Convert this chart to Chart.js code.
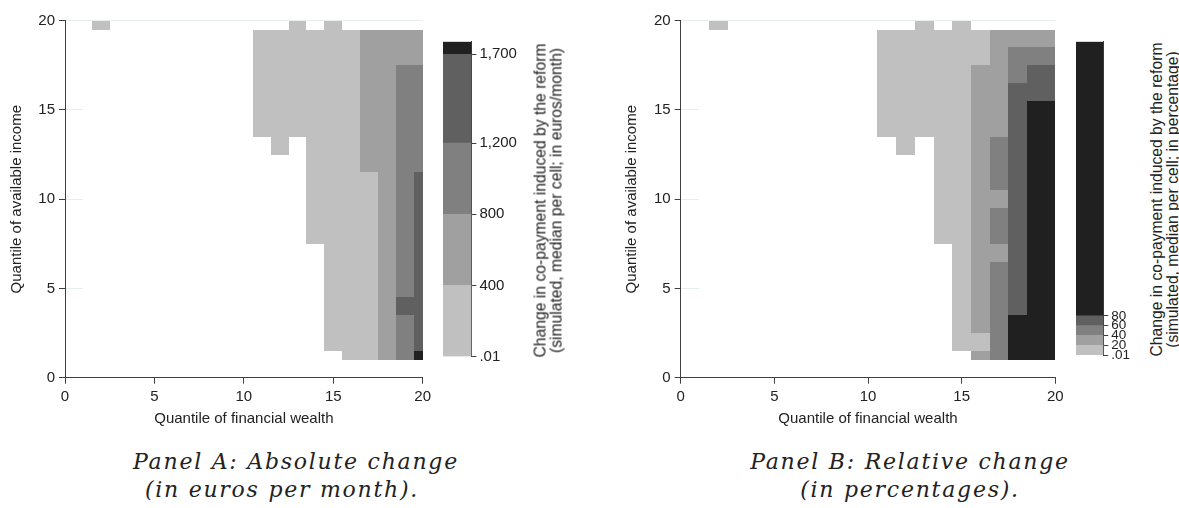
<!DOCTYPE html>
<html>
<head>
<meta charset="utf-8">
<script src="https://cdn.jsdelivr.net/npm/chart.js@4.4.1/dist/chart.umd.min.js"></script>
<style>
  html, body { margin: 0; padding: 0; background: #fff; }
  body { width: 1179px; height: 508px; position: relative; overflow: hidden;
         font-family: "Liberation Sans", Arial, sans-serif; color: #222; }
  canvas { position: absolute; top: 0; }
  .cbtitle { position: absolute; width: 340px; font-size: 15.7px; line-height: 15.5px;
             text-align: center; white-space: nowrap; transform: rotate(-90deg); }
  .cap { position: absolute; font-family: "DejaVu Serif", serif; font-style: italic;
         font-size: 22px; line-height: 26px; letter-spacing: 1.75px; white-space: nowrap;
         transform: translateX(-50%); }
</style>
</head>
<body>
<canvas id="heatA" width="440" height="430" style="left:0px"></canvas>
<canvas id="barA" width="90" height="380" style="left:443px"></canvas>
<div class="cbtitle" style="left:378px; top:184.5px">Change in co-payment induced by the reform<br>(simulated, median per cell; in euros/month)</div>

<canvas id="heatB" width="460" height="430" style="left:615px"></canvas>
<canvas id="barB" width="70" height="380" style="left:1076px"></canvas>
<div class="cbtitle" style="left:994px; top:183.5px">Change in co-payment induced by the reform<br>(simulated, median per cell; in percentage)</div>

<div class="cap" style="left:296px; top:449px">Panel A: Absolute change</div>
<div class="cap" style="left:282px; top:477px">(in euros per month).</div>
<div class="cap" style="left:910px; top:449px">Panel B: Relative change</div>
<div class="cap" style="left:910px; top:477px">(in percentages).</div>

<script>
const _ = null;

// columns: quantile of financial wealth, rows: quantile of available income (top row first)
const wealthQuantiles = [1, 2, 3, 4, 5, 6, 7, 8, 9, 10, 11, 12, 13, 14, 15, 16, 17, 18, 19, 20];
const incomeQuantiles = [20, 19, 18, 17, 16, 15, 14, 13, 12, 11, 10, 9, 8, 7, 6, 5, 4, 3, 2, 1];
const axisTicks = [0, 5, 10, 15, 20];

// median change in co-payment, euros/month
const absChange = [
  [_, 200, _, _, _, _, _, _, _, _, _, _, 200, _, 200, _, _, _, _, _],
  [_, _, _, _, _, _, _, _, _, _, 200, 200, 200, 200, 200, 200, 600, 600, 600, 600],
  [_, _, _, _, _, _, _, _, _, _, 200, 200, 200, 200, 200, 200, 600, 600, 600, 600],
  [_, _, _, _, _, _, _, _, _, _, 200, 200, 200, 200, 200, 200, 600, 600, 1000, 1000],
  [_, _, _, _, _, _, _, _, _, _, 200, 200, 200, 200, 200, 200, 600, 600, 1000, 1000],
  [_, _, _, _, _, _, _, _, _, _, 200, 200, 200, 200, 200, 200, 600, 600, 1000, 1000],
  [_, _, _, _, _, _, _, _, _, _, 200, 200, 200, 200, 200, 200, 600, 600, 1000, 1000],
  [_, _, _, _, _, _, _, _, _, _, _, 200, _, 200, 200, 200, 600, 600, 1000, 1000],
  [_, _, _, _, _, _, _, _, _, _, _, _, _, 200, 200, 200, 600, 600, 1000, 1000],
  [_, _, _, _, _, _, _, _, _, _, _, _, _, 200, 200, 200, 200, 600, 1000, 1450],
  [_, _, _, _, _, _, _, _, _, _, _, _, _, 200, 200, 200, 200, 600, 1000, 1450],
  [_, _, _, _, _, _, _, _, _, _, _, _, _, 200, 200, 200, 200, 600, 1000, 1450],
  [_, _, _, _, _, _, _, _, _, _, _, _, _, 200, 200, 200, 200, 600, 1000, 1450],
  [_, _, _, _, _, _, _, _, _, _, _, _, _, _, 200, 200, 200, 600, 1000, 1450],
  [_, _, _, _, _, _, _, _, _, _, _, _, _, _, 200, 200, 200, 600, 1000, 1450],
  [_, _, _, _, _, _, _, _, _, _, _, _, _, _, 200, 200, 200, 600, 1000, 1450],
  [_, _, _, _, _, _, _, _, _, _, _, _, _, _, 200, 200, 200, 600, 1450, 1450],
  [_, _, _, _, _, _, _, _, _, _, _, _, _, _, 200, 200, 200, 600, 1000, 1450],
  [_, _, _, _, _, _, _, _, _, _, _, _, _, _, 200, 200, 200, 600, 1000, 1450],
  [_, _, _, _, _, _, _, _, _, _, _, _, _, _, _, 200, 200, 600, 1000, 1750]
];

// median change in co-payment, percent
const relChange = [
  [_, 10, _, _, _, _, _, _, _, _, _, _, 10, _, 10, _, _, _, _, _],
  [_, _, _, _, _, _, _, _, _, _, 10, 10, 10, 10, 10, 10, 30, 30, 30, 30],
  [_, _, _, _, _, _, _, _, _, _, 10, 10, 10, 10, 10, 10, 30, 50, 50, 50],
  [_, _, _, _, _, _, _, _, _, _, 10, 10, 10, 10, 10, 30, 30, 50, 70, 70],
  [_, _, _, _, _, _, _, _, _, _, 10, 10, 10, 10, 10, 30, 30, 70, 70, 70],
  [_, _, _, _, _, _, _, _, _, _, 10, 10, 10, 10, 10, 30, 30, 70, 150, 150],
  [_, _, _, _, _, _, _, _, _, _, 10, 10, 10, 10, 10, 30, 30, 70, 150, 150],
  [_, _, _, _, _, _, _, _, _, _, _, 10, _, 10, 10, 30, 50, 70, 150, 150],
  [_, _, _, _, _, _, _, _, _, _, _, _, _, 10, 10, 30, 50, 70, 150, 150],
  [_, _, _, _, _, _, _, _, _, _, _, _, _, 10, 10, 30, 50, 70, 150, 150],
  [_, _, _, _, _, _, _, _, _, _, _, _, _, 10, 10, 30, 30, 70, 150, 150],
  [_, _, _, _, _, _, _, _, _, _, _, _, _, 10, 10, 30, 50, 70, 150, 150],
  [_, _, _, _, _, _, _, _, _, _, _, _, _, 10, 10, 30, 50, 70, 150, 150],
  [_, _, _, _, _, _, _, _, _, _, _, _, _, _, 10, 30, 30, 70, 150, 150],
  [_, _, _, _, _, _, _, _, _, _, _, _, _, _, 10, 30, 50, 70, 150, 150],
  [_, _, _, _, _, _, _, _, _, _, _, _, _, _, 10, 30, 50, 70, 150, 150],
  [_, _, _, _, _, _, _, _, _, _, _, _, _, _, 10, 30, 50, 70, 150, 150],
  [_, _, _, _, _, _, _, _, _, _, _, _, _, _, 10, 30, 50, 150, 150, 150],
  [_, _, _, _, _, _, _, _, _, _, _, _, _, _, 10, 10, 50, 150, 150, 150],
  [_, _, _, _, _, _, _, _, _, _, _, _, _, _, _, 30, 50, 150, 150, 150]
];

// colour bins (legend)
const absBreaks = [0.01, 400, 800, 1200, 1700, 1771];
const absTickLabels = ['.01', '400', '800', '1,200', '1,700'];
const relBreaks = [0.01, 20, 40, 60, 80, 640];
const relTickLabels = ['.01', '20', '40', '60', '80'];
const shades = ['#c0c0c0', '#a0a0a0', '#808080', '#606060', '#202020'];

const FONT = { family: '"Liberation Sans", Arial, sans-serif', size: 15 };
const SMALL = { family: '"Liberation Sans", Arial, sans-serif', size: 13.5, lineHeight: 1 };
const INK = '#222';
const AXIS = '#404040';

function shadeFor(v, breaks) {
  for (let i = 0; i < shades.length; i++) {
    if (v < breaks[i + 1]) return shades[i];
  }
  return shades[shades.length - 1];
}

// draws the heat cells from the dataset points, using the chart scales
const cellPlugin = {
  id: 'cells',
  beforeDatasetsDraw(chart) {
    const { ctx, scales: { x, y } } = chart;
    const ds = chart.data.datasets[0];
    const lo = 1, hi = 20;
    const px = v => Math.round(x.getPixelForValue(v));
    const py = v => Math.round(y.getPixelForValue(v));
    ctx.save();
    ctx.fillStyle = '#fff';
    ctx.fillRect(px(lo), py(hi) + 1, px(hi) - px(lo), py(lo) - py(hi) - 1);
    ds.data.forEach(d => {
      const x0 = px(Math.max(lo, d.x - 0.5)), x1 = px(Math.min(hi, d.x + 0.5));
      const y0 = py(Math.min(hi, d.y + 0.5)), y1 = py(Math.max(lo, d.y - 0.5));
      ctx.fillStyle = shadeFor(d.v, ds.breaks);
      ctx.fillRect(x0, y0, x1 - x0, y1 - y0);
    });
    ctx.restore();
  }
};

function makeHeat(id, grid, breaks, yWidth, padRight, yTitlePad) {
  const cells = [];
  grid.forEach((row, r) => row.forEach((v, c) => {
    if (v !== null) cells.push({ x: wealthQuantiles[c], y: incomeQuantiles[r], v: v });
  }));
  new Chart(document.getElementById(id), {
    type: 'scatter',
    data: { datasets: [{ data: cells, breaks: breaks, pointRadius: 0 }] },
    options: {
      responsive: false,
      animation: false,
      events: [],
      layout: { padding: { top: 20.7, right: padRight, bottom: 0, left: 0 } },
      plugins: { legend: { display: false }, tooltip: { enabled: false } },
      scales: {
        x: {
          type: 'linear', min: 0, max: 20,
          afterBuildTicks: s => { s.ticks = axisTicks.map(v => ({ value: v })); },
          afterFit: s => { s.height = 52.3; },
          grid: { drawOnChartArea: false, tickLength: 6, tickColor: AXIS },
          border: { color: AXIS },
          ticks: { font: FONT, color: INK, padding: 4, maxRotation: 0 },
          title: { display: true, text: 'Quantile of financial wealth', font: FONT, color: INK,
                   padding: { top: 0, bottom: 2.5 } }
        },
        y: {
          type: 'linear', min: 0, max: 20,
          afterBuildTicks: s => { s.ticks = axisTicks.map(v => ({ value: v })); },
          afterFit: s => { s.width = yWidth; },
          grid: { color: '#e6eff0', tickLength: 6, tickColor: AXIS },
          border: { color: AXIS },
          ticks: { font: FONT, color: INK, padding: 4 },
          title: { display: true, text: 'Quantile of available income', font: FONT, color: INK,
                   padding: { top: yTitlePad, bottom: 0 } }
        }
      }
    },
    plugins: [cellPlugin]
  });
}

function makeBar(id, breaks, labels, barWidth, canvasWidth, bottom, tickFont) {
  new Chart(document.getElementById(id), {
    type: 'bar',
    data: {
      labels: [''],
      datasets: shades.map((c, i) => ({
        data: [[breaks[i], breaks[i + 1]]],
        backgroundColor: c, borderWidth: 0, grouped: false,
        barPercentage: 1, categoryPercentage: 1
      }))
    },
    options: {
      responsive: false,
      animation: false,
      events: [],
      layout: { padding: { top: 41.7, right: 0, bottom: 380 - bottom, left: 0 } },
      plugins: { legend: { display: false }, tooltip: { enabled: false } },
      scales: {
        x: { display: false },
        y: {
          position: 'right', min: breaks[0], max: breaks[breaks.length - 1],
          afterBuildTicks: s => { s.ticks = breaks.slice(0, labels.length).map(v => ({ value: v })); },
          afterFit: s => { s.width = canvasWidth - barWidth; },
          grid: { drawOnChartArea: false, tickLength: 5, tickColor: AXIS },
          border: { color: AXIS },
          ticks: { font: tickFont, color: INK, padding: 3, autoSkip: false,
                   callback: (v, i) => labels[i] }
        }
      }
    }
  });
}

makeHeat('heatA', absChange, absBreaks, 65, 17.3, 7.5);
makeBar('barA', absBreaks, absTickLabels, 28.4, 90, 356.5, FONT);
makeHeat('heatB', relChange, relBreaks, 65.7, 19.7, 7.5);
makeBar('barB', relBreaks, relTickLabels, 27.3, 70, 355, SMALL);
</script>
</body>
</html>
